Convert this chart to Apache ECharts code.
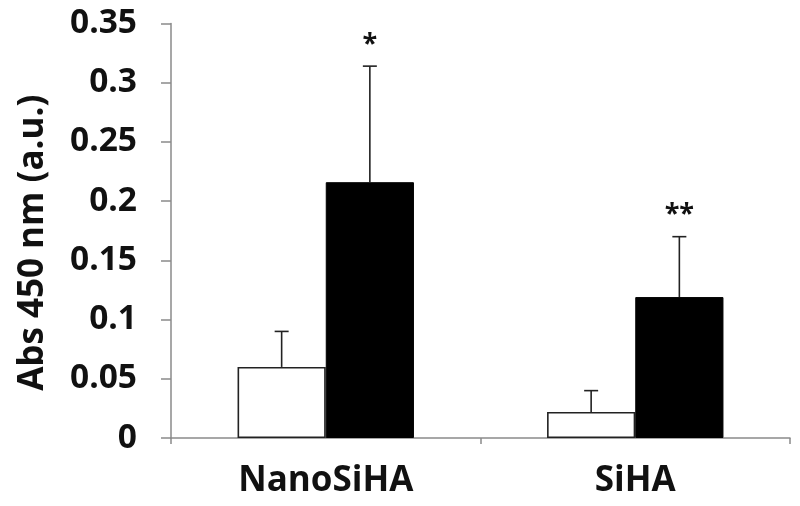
<!DOCTYPE html>
<html>
<head>
<meta charset="utf-8">
<script src="https://cdn.jsdelivr.net/npm/echarts@6/dist/echarts.min.js"></script>
<style>html,body{margin:0;padding:0;background:#fff}#c{width:800px;height:506px}</style>
</head>
<body>
<div id="c"></div>
<script>
const categories = ['NanoSiHA', 'SiHA'];
const controlValues = [0.060, 0.022];
const controlErrors = [0.030, 0.018];
const treatedValues = [0.216, 0.119];
const treatedErrors = [0.098, 0.051];
const significance = ['*', '**'];
const yTicks = [0, 0.05, 0.1, 0.15, 0.2, 0.25, 0.3, 0.35];

const GAP = 0.43;
const FONT = '"Open Sans", "DejaVu Sans", sans-serif';

function errSeries(vals, errs, side, withSig) {
  return {
    type: 'custom',
    z: 5,
    data: vals.map((v, i) => [i, v, v + errs[i]]),
    renderItem: function (params, api) {
      const i = api.value(0);
      const band = api.size([1, 0])[0];
      const bw = band * (1 - GAP) / 2;
      const base = api.coord([i, api.value(1)]);
      const top = api.coord([i, api.value(2)]);
      const x = base[0] + side * bw / 2;
      const cap = 7;
      const children = [
        { type: 'line', shape: { x1: x, y1: base[1], x2: x, y2: top[1] }, style: { stroke: '#222', lineWidth: 1.6 } },
        { type: 'line', shape: { x1: x - cap, y1: top[1], x2: x + cap, y2: top[1] }, style: { stroke: '#222', lineWidth: 1.6 } }
      ];
      if (withSig) {
        children.push({ type: 'text', style: { text: significance[i], x: x, y: top[1] - 22, align: 'center', verticalAlign: 'middle', font: 'bold 27px ' + FONT, fill: '#111' } });
      }
      return { type: 'group', children: children };
    }
  };
}

const chart = echarts.init(document.getElementById('c'));
chart.setOption({
  animation: false,
  backgroundColor: '#fff',
  grid: { left: 171, right: 10, top: 23.5, bottom: 68 },
  xAxis: {
    type: 'category',
    data: categories,
    axisLine: { lineStyle: { color: '#8a8a8a', width: 1.5 } },
    axisTick: { show: true, length: 6, lineStyle: { color: '#8a8a8a', width: 1.5 } },
    axisLabel: { fontFamily: FONT, fontWeight: 'bold', fontSize: 35, color: '#111', margin: 26 }
  },
  yAxis: {
    type: 'value',
    min: 0, max: 0.35, interval: 0.05,
    name: 'Abs 450 nm (a.u.)',
    nameLocation: 'middle',
    nameRotate: 90,
    nameGap: 120,
    nameTextStyle: { fontFamily: FONT, fontWeight: 'bold', fontSize: 35, color: '#111', padding: [0, 24, 0, 0] },
    axisLine: { show: true, lineStyle: { color: '#8a8a8a', width: 1.5 } },
    axisTick: { show: true, length: 10, lineStyle: { color: '#8a8a8a', width: 1.5 } },
    splitLine: { show: false },
    axisLabel: {
      fontFamily: FONT, fontWeight: 'bold', fontSize: 33.5, color: '#111', margin: 34,
      formatter: function (v) { const t = yTicks.find(x => Math.abs(x - v) < 1e-9); return t === undefined ? '' : String(t); }
    }
  },
  series: [
    { type: 'bar', data: controlValues, barGap: '0%', barCategoryGap: (GAP * 100) + '%',
      itemStyle: { color: '#fff', borderColor: '#222', borderWidth: 1.6 } },
    { type: 'bar', data: treatedValues,
      itemStyle: { color: '#000', borderColor: '#000', borderWidth: 1 } },
    errSeries(controlValues, controlErrors, -1, false),
    errSeries(treatedValues, treatedErrors, 1, true)
  ]
});
</script>
</body>
</html>
